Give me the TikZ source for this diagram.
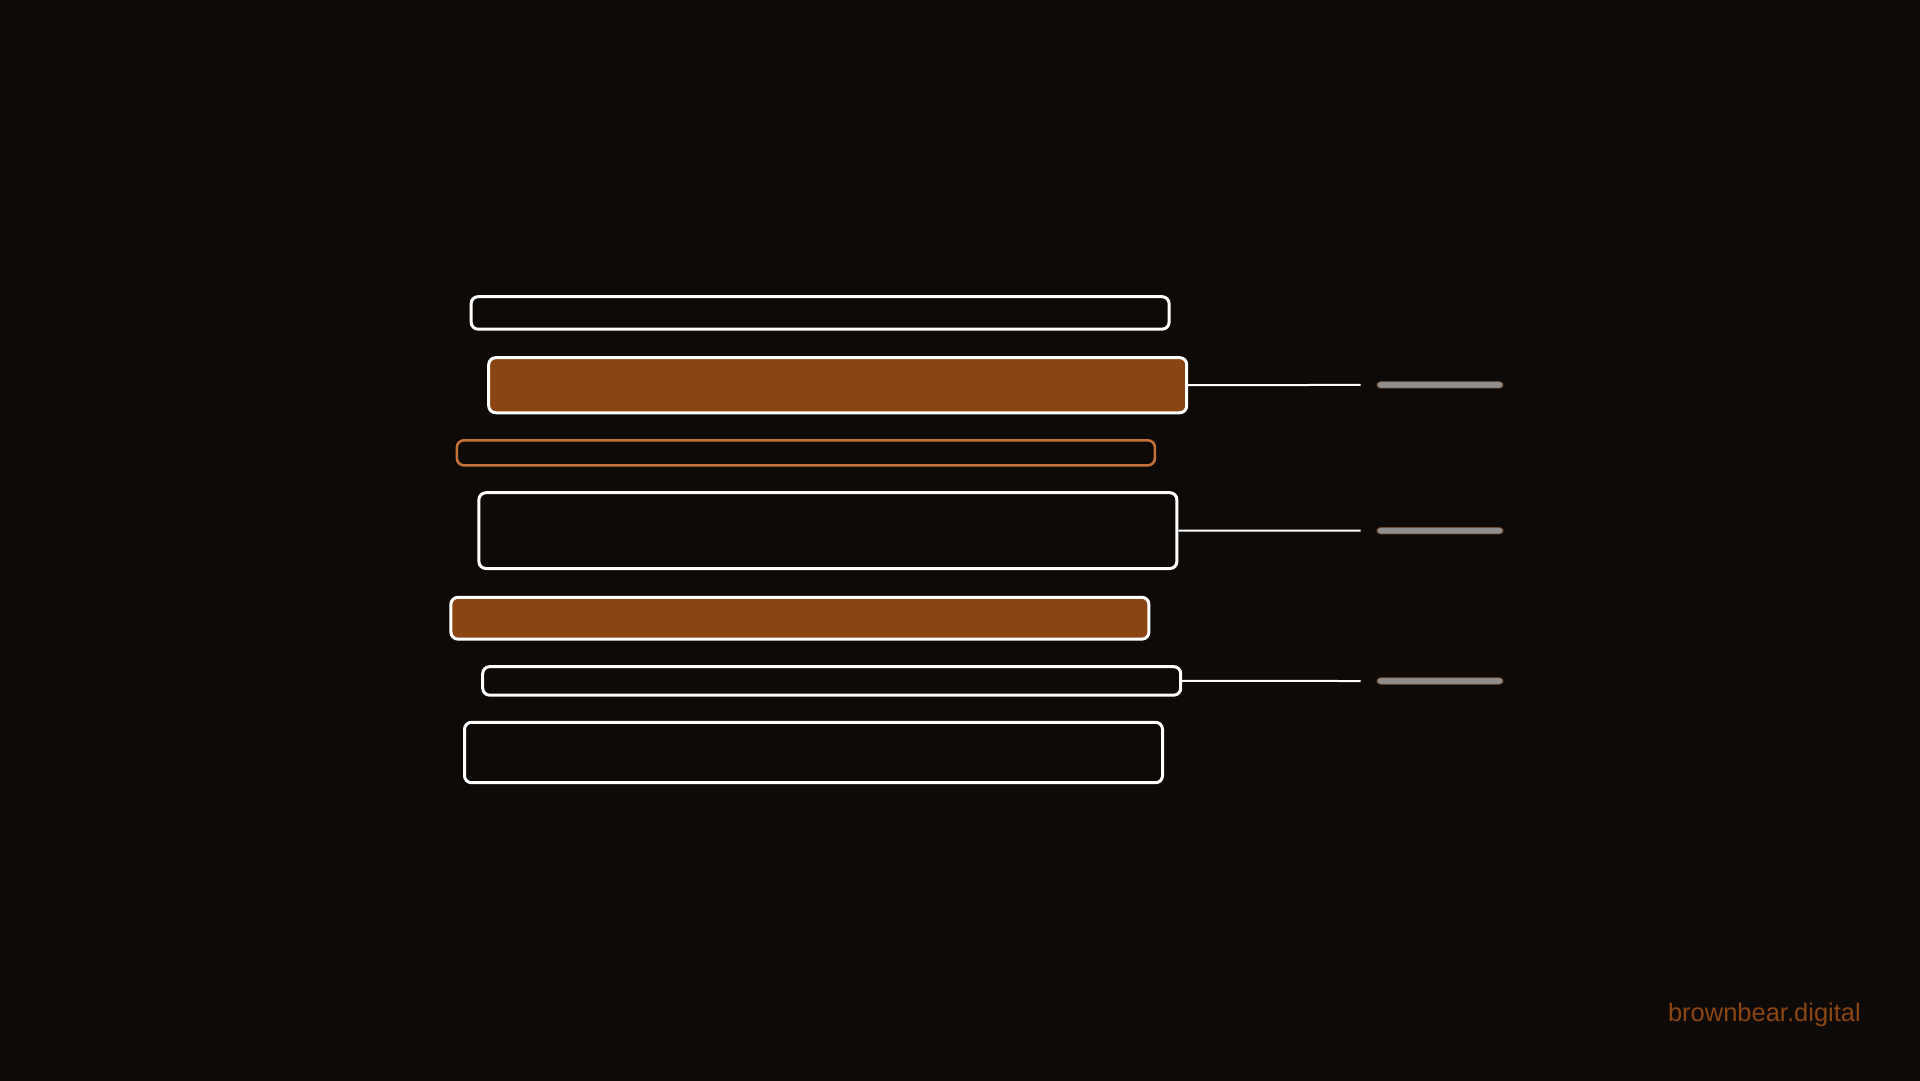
\documentclass[tikz,border=0pt]{standalone}
\usepackage{fontspec}
\setmainfont{Liberation Sans}
\definecolor{bearbg}{HTML}{0D0A08}
\definecolor{bearbrown}{HTML}{8B4513}
\definecolor{bearcopper}{HTML}{C4713A}
\definecolor{beargray}{HTML}{8F8E8C}
\definecolor{bearedge}{HTML}{6E4A30}
\usetikzlibrary{positioning}

\begin{document}
\begin{tikzpicture}[x=1pt, y=-1pt,
  bar/.style={rectangle, rounded corners=7pt, inner sep=0pt, minimum width=698pt, line width=3pt},
  outline/.style={bar, draw=white, fill=bearbg},
  solid/.style={bar, draw=white, fill=bearbrown},
  copper/.style={bar, draw=bearcopper, line width=2.6pt, fill=bearbg},
  tag/.style={rectangle, rounded corners=3.5pt, inner sep=0pt, minimum width=126pt, minimum height=6.5pt, fill=beargray, draw=bearedge, line width=0.6pt},
  link/.style={draw=white, line width=2pt}]
  % Canvas
  \useasboundingbox (0,0) rectangle (1920,1080);
  \fill[bearbg] (-4,-4) rectangle (1924,1084);

  % Bars
  \node[outline, minimum height=32.5pt] (b1) at (820.1, 312.9) {};
  \node[solid, minimum height=55.1pt] (b2) at (837.7, 385.2) {};
  \node[copper, minimum height=25pt] (b3) at (805.9, 452.8) {};
  \node[outline, minimum height=75.8pt] (b4) at (827.9, 530.6) {};
  \node[solid, minimum height=41.8pt] (b5) at (799.9, 618.2) {};
  \node[outline, minimum height=28.5pt] (b6) at (831.7, 680.9) {};
  \node[outline, minimum height=60.4pt] (b7) at (813.5, 752.5) {};

  % Tags
  \node[tag] (t1) at (1440, 384.9) {};
  \node[tag] (t2) at (1440, 530.7) {};
  \node[tag] (t3) at (1440, 681) {};

  \coordinate (e1) at (1360.7, 384.9);
  \coordinate (e2) at (1360.7, 530.7);
  \coordinate (e3) at (1360.7, 681);
  \draw[link] (b2.east) -- (e1);
  \draw[link] (b4.east) -- (e2);
  \draw[link] (b6.east) -- (e3);

  % Brand
  \node[anchor=base east, inner sep=0pt, text=bearbrown, font=\fontsize{25.5}{30}\selectfont] (brand) at (1861, 1021.7) {brownbear.digital};
\end{tikzpicture}
\end{document}
